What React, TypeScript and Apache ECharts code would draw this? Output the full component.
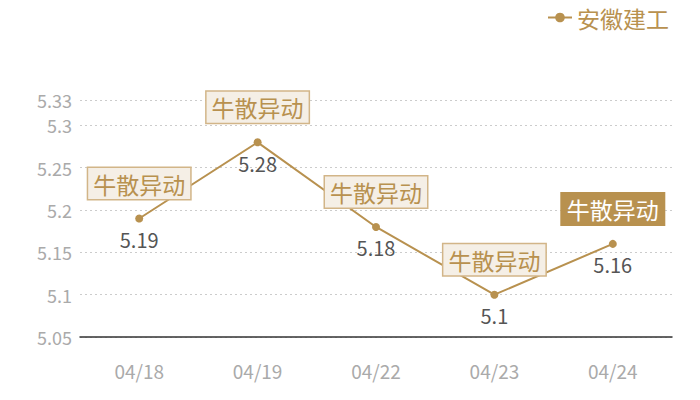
import { useEffect, useRef } from 'react';
import * as echarts from 'echarts';

const categories = ['04/18', '04/19', '04/22', '04/23', '04/24'];
const prices = [5.19, 5.28, 5.18, 5.1, 5.16];
const eventLabels = ['牛散异动', '牛散异动', '牛散异动', '牛散异动', '牛散异动'];
const highlighted = [false, false, false, false, true];
const seriesName = '安徽建工';

const GOLD = '#b8914f';
const FONT = '"Noto Sans CJK SC", "Noto Sans", sans-serif';

export default function App() {
  const chartRef = useRef<HTMLDivElement>(null);

  useEffect(() => {
    if (!chartRef.current) return;
    const chart = echarts.init(chartRef.current, null, { renderer: 'svg' });

    const markData = categories.map((c, i) => ({
      coord: [c, prices[i]],
      value: eventLabels[i],
      label: highlighted[i]
        ? { backgroundColor: GOLD, color: '#ffffff', borderColor: GOLD }
        : { backgroundColor: '#f5efe6', color: GOLD, borderColor: '#d2b588' },
    }));

    chart.setOption({
      animation: false,
      textStyle: { fontFamily: FONT },
      legend: {
        right: 26,
        top: 1,
        itemWidth: 24,
        itemHeight: 12,
        itemGap: 6,
        textStyle: { fontSize: 23, color: GOLD, fontFamily: FONT },
        data: [seriesName],
      },
      grid: { left: 80, right: 28, top: 100, bottom: 63 },
      xAxis: {
        type: 'category',
        data: categories,
        axisLine: { lineStyle: { color: '#333333', width: 1.5 } },
        axisTick: { show: false },
        axisLabel: { color: '#aaaaaa', fontSize: 19, margin: 24, fontFamily: FONT },
      },
      yAxis: {
        type: 'value',
        min: 5.05,
        max: 5.33,
        interval: 0.05,
        axisLine: { show: false },
        axisTick: { show: false },
        axisLabel: {
          color: '#aaaaaa',
          fontSize: 18,
          margin: 8,
          fontFamily: FONT,
          formatter: (v: number) => String(parseFloat(v.toFixed(2))),
        },
        splitLine: { lineStyle: { color: '#cccccc', type: [2, 3] } },
      },
      series: [
        {
          name: seriesName,
          type: 'line',
          data: prices,
          symbol: 'circle',
          symbolSize: 8,
          itemStyle: { color: GOLD },
          lineStyle: { color: GOLD, width: 2 },
          label: {
            show: true,
            position: 'bottom',
            distance: 7,
            fontSize: 20,
            color: '#555555',
            fontFamily: FONT,
          },
          markPoint: {
            symbol: 'rect',
            symbolSize: 1,
            itemStyle: { color: 'transparent' },
            label: {
              show: true,
              position: 'inside',
              offset: [0, -35],
              formatter: (p: any) => p.value,
              fontSize: 23,
              fontFamily: FONT,
              borderWidth: 1.5,
              padding: [5, 5, 3, 5],
            },
            data: markData,
          },
        },
      ],
    });

    return () => chart.dispose();
  }, []);

  return <div ref={chartRef} style={{ width: 700, height: 400, margin: -8 }} />;
}
